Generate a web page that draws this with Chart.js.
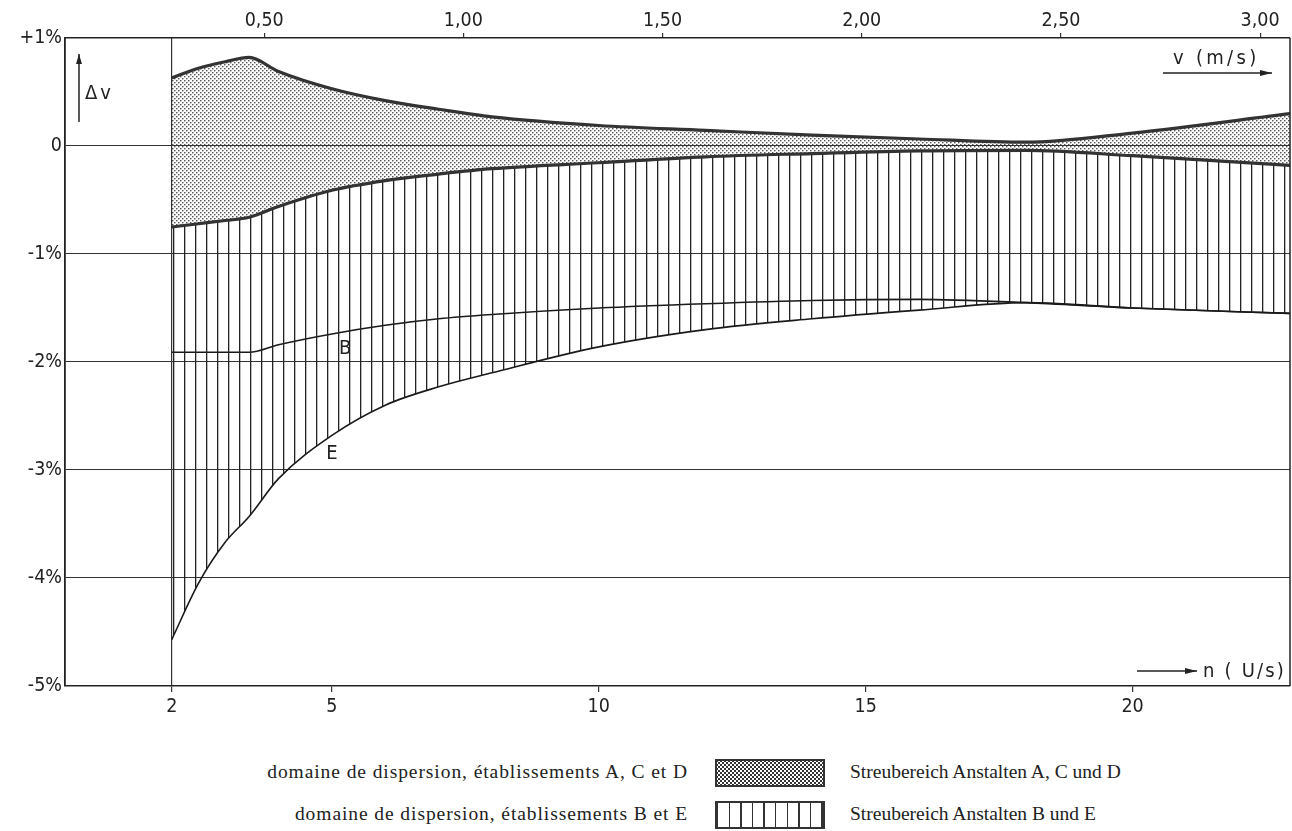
<!DOCTYPE html>
<html>
<head>
<meta charset="utf-8">
<script src="https://cdn.jsdelivr.net/npm/chart.js@4.4.1/dist/chart.umd.min.js"></script>
<style>
  html, body { margin: 0; padding: 0; background: #fff; }
  #wrap { position: relative; width: 1292px; height: 831px; overflow: hidden; }
  #chart { position: absolute; left: 0; top: 0; }
  .lg { position: absolute; font-family: 'Liberation Serif', 'Times New Roman', serif; font-size: 19.5px; color: #222; white-space: nowrap; line-height: 24px; }
  .lgL { right: 604px; text-align: right; letter-spacing: 0.92px; }
  .lgR { left: 850px; }
  .sw { position: absolute; left: 715px; width: 106px; height: 24px; border: 2px solid #333; }
  .dots { background-color: #fff;
    background-image: radial-gradient(circle, #333 0.85px, transparent 1.1px), radial-gradient(circle, #333 0.85px, transparent 1.1px);
    background-size: 4px 4px; background-position: 0 0, 2px 2px; }
  .vlines { background-color: #fff;
    background-image: repeating-linear-gradient(90deg, #333 0 1.3px, transparent 1.3px 11.6px); }
</style>
</head>
<body>
<div id="wrap">
  <canvas id="chart" width="1292" height="740"></canvas>
  <div class="lg lgL" style="top:760px;">domaine de dispersion, établissements A, C et D</div>
  <div class="sw dots" style="top:759px;"></div>
  <div class="lg lgR" style="top:760px;">Streubereich Anstalten A, C und D</div>
  <div class="lg lgL" style="top:802px;">domaine de dispersion, établissements B et E</div>
  <div class="sw vlines" style="top:801px;"></div>
  <div class="lg lgR" style="top:802px;">Streubereich Anstalten B und E</div>
</div>
<script>
// ---- data ----
const nValues  = [2, 2.5, 3, 3.45, 4, 5, 6, 7, 8, 10, 12, 14, 16, 18, 20, 22.95];
const acdUpper = [0.63, 0.72, 0.78, 0.82, 0.69, 0.53, 0.42, 0.34, 0.27, 0.19, 0.145, 0.10, 0.065, 0.035, 0.12, 0.30];
const acdLower = [-0.75, -0.72, -0.69, -0.66, -0.56, -0.41, -0.32, -0.26, -0.21, -0.155, -0.10, -0.07, -0.045, -0.04, -0.09, -0.18];
const curveE   = [-4.57, -4.05, -3.67, -3.43, -3.08, -2.68, -2.40, -2.23, -2.10, -1.86, -1.70, -1.60, -1.52, -1.45, -1.50, -1.55];
const curveB   = [-1.91, -1.91, -1.91, -1.91, -1.84, -1.74, -1.66, -1.60, -1.56, -1.50, -1.46, -1.43, -1.42, -1.45, -1.50, -1.55];

const nTicks = [2, 5, 10, 15, 20];
const nTickLabels = ['2', '5', '10', '15', '20'];
const vTicks = [0.5, 1.0, 1.5, 2.0, 2.5, 3.0];
const vTickLabels = ['0,50', '1,00', '1,50', '2,00', '2,50', '3,00'];
const yTicks = [-5, -4, -3, -2, -1, 0, 1];
const yTickLabels = ['-5%', '-4%', '-3%', '-2%', '-1%', '0', '+1%'];

const N_MIN = 0, N_MAX = 22.95;
const V_MIN = 0, V_MAX = 3.075;

const pts = (ys) => nValues.map((n, i) => ({ x: n, y: ys[i] }));

// ---- fill patterns ----
function dotPattern() {
  const c = document.createElement('canvas'); c.width = 4; c.height = 4;
  const g = c.getContext('2d');
  g.fillStyle = '#333';
  g.beginPath(); g.arc(0.8, 0.8, 0.8, 0, Math.PI * 2); g.fill();
  g.beginPath(); g.arc(2.8, 2.8, 0.8, 0, Math.PI * 2); g.fill();
  return document.getElementById('chart').getContext('2d').createPattern(c, 'repeat');
}
function linePattern() {
  const c = document.createElement('canvas'); c.width = 11; c.height = 4;
  const g = c.getContext('2d');
  g.fillStyle = '#222';
  g.fillRect(0, 0, 1.3, 4);
  const p = document.getElementById('chart').getContext('2d').createPattern(c, 'repeat');
  if (p.setTransform && window.DOMMatrix) p.setTransform(new DOMMatrix().translate(8, 0));
  return p;
}

const FONT = "'DejaVu Sans Condensed', 'DejaVu Sans', sans-serif";
const INK = '#222';

const annot = {
  id: 'annot',
  afterDatasetsDraw(chart) {
    const { ctx, chartArea: a } = chart;
    ctx.save();
    ctx.strokeStyle = INK; ctx.lineWidth = 1.5;
    ctx.beginPath(); ctx.moveTo(a.right, a.top); ctx.lineTo(a.right, a.bottom); ctx.stroke();
    ctx.restore();
  },
  afterDraw(chart) {
    const { ctx, chartArea: a, scales } = chart;
    const sx = scales.x, sy = scales.y;
    ctx.save();
    ctx.fillStyle = INK; ctx.strokeStyle = INK;
    ctx.font = '20px ' + FONT;
    ctx.textBaseline = 'middle';

    function arrow(x1, y1, x2, y2, head) {
      ctx.lineWidth = 1.5;
      ctx.beginPath(); ctx.moveTo(x1, y1); ctx.lineTo(x2, y2); ctx.stroke();
      const ang = Math.atan2(y2 - y1, x2 - x1);
      ctx.beginPath();
      ctx.moveTo(x2, y2);
      ctx.lineTo(x2 - head * Math.cos(ang) + 3 * Math.sin(ang), y2 - head * Math.sin(ang) - 3 * Math.cos(ang));
      ctx.lineTo(x2 - head * Math.cos(ang) - 3 * Math.sin(ang), y2 - head * Math.sin(ang) + 3 * Math.cos(ang));
      ctx.closePath(); ctx.fill();
    }
    const spaced = (txt, x, y, sp) => {
      if ('letterSpacing' in ctx) { ctx.letterSpacing = sp + 'px'; ctx.fillText(txt, x, y); ctx.letterSpacing = '0px'; }
      else ctx.fillText(txt, x, y);
    };
    // Δv with up arrow
    arrow(a.left + 14, a.top + 84, a.left + 14, a.top + 16, 10);
    ctx.textAlign = 'left';
    spaced('Δv', a.left + 20, a.top + 56, 3);
    // v (m/s)
    spaced('v (m/s)', a.right - 117, a.top + 21, 3.3);
    arrow(a.right - 127, a.top + 35, a.right - 18, a.top + 35, 12);
    // n (U/s)
    spaced('n ( U/s)', a.right - 87, a.bottom - 14, 2.2);
    arrow(a.right - 153, a.bottom - 15, a.right - 93, a.bottom - 15, 12);
    // curve labels
    ctx.textAlign = 'center';
    ctx.fillText('B', sx.getPixelForValue(5.25), sy.getPixelForValue(-1.88));
    ctx.fillText('E', sx.getPixelForValue(5.0), sy.getPixelForValue(-2.85));
    ctx.restore();
  }
};

const chart = new Chart(document.getElementById('chart'), {
  type: 'line',
  data: {
    datasets: [
      { label: 'ACD upper', data: pts(acdUpper), borderColor: '#333', borderWidth: 3.2,
        backgroundColor: dotPattern(), fill: '+1', pointRadius: 0, cubicInterpolationMode: 'monotone' },
      { label: 'ACD lower', data: pts(acdLower), borderColor: '#333', borderWidth: 3.2,
        fill: false, pointRadius: 0, cubicInterpolationMode: 'monotone' },
      { label: 'E', data: pts(curveE), borderColor: '#1a1a1a', borderWidth: 1.6,
        backgroundColor: linePattern(), fill: 1, pointRadius: 0, cubicInterpolationMode: 'monotone' },
      { label: 'B', data: pts(curveB), borderColor: '#1a1a1a', borderWidth: 1.6,
        fill: false, pointRadius: 0, cubicInterpolationMode: 'monotone' }
    ]
  },
  options: {
    responsive: false,
    animation: false,
    devicePixelRatio: 1,
    layout: { padding: { left: 0, right: 2, top: 0, bottom: 0 } },
    plugins: { legend: { display: false }, tooltip: { enabled: false } },
    scales: {
      x: {
        type: 'linear', position: 'bottom', min: N_MIN, max: N_MAX,
        afterBuildTicks: (s) => { s.ticks = nTicks.map(v => ({ value: v })); },
        afterFit: (s) => { s.height = 54; },
        ticks: { color: INK, font: { family: FONT, size: 19.5 }, padding: 3, autoSkip: false, maxRotation: 0,
          callback: (v) => { const i = nTicks.indexOf(v); return i >= 0 ? nTickLabels[i] : ''; } },
        grid: { color: (c) => (c.tick && c.tick.value === 2 ? '#333' : 'rgba(0,0,0,0)'),
          lineWidth: 1.2, tickColor: '#333', tickLength: 6, drawOnChartArea: true },
        border: { display: true, color: INK, width: 1.6 }
      },
      x2: {
        type: 'linear', position: 'top', min: V_MIN, max: V_MAX,
        afterBuildTicks: (s) => { s.ticks = vTicks.map(v => ({ value: v })); },
        afterFit: (s) => { s.height = 38; },
        ticks: { color: INK, font: { family: FONT, size: 19.5 }, padding: 0, autoSkip: false, maxRotation: 0,
          callback: (v) => { const i = vTicks.indexOf(v); return i >= 0 ? vTickLabels[i] : ''; } },
        grid: { drawOnChartArea: false, tickColor: '#333', tickLength: 5, lineWidth: 1.2 },
        border: { display: true, color: INK, width: 1.4 }
      },
      y: {
        type: 'linear', position: 'left', min: -5, max: 1,
        afterBuildTicks: (s) => { s.ticks = yTicks.map(v => ({ value: v })); },
        afterFit: (s) => { s.width = 65; },
        ticks: { color: INK, font: { family: FONT, size: 19.5 }, padding: 3, autoSkip: false,
          callback: (v) => { const i = yTicks.indexOf(v); return i >= 0 ? yTickLabels[i] : ''; } },
        grid: { color: '#333', lineWidth: 1.1, drawTicks: false },
        border: { display: true, color: INK, width: 1.8 }
      }
    }
  },
  plugins: [annot]
});
</script>
</body>
</html>
